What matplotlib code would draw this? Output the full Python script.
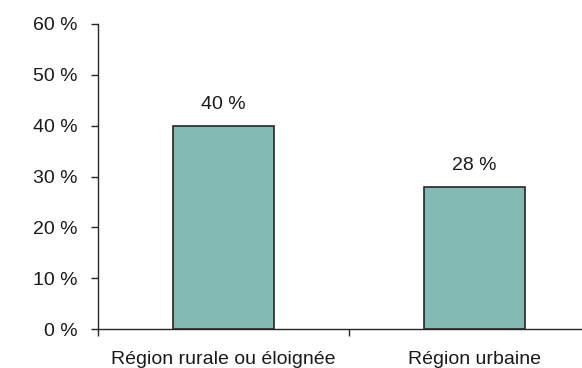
import numpy as np
import matplotlib.pyplot as plt

categories = ["Région rurale ou éloignée", "Région urbaine"]
values = [40, 28]
yticks = [0, 10, 20, 30, 40, 50, 60]

plt.rcParams['font.family'] = ['Liberation Sans', 'DejaVu Sans']

fig = plt.figure(figsize=(5.82, 3.68), dpi=100)
ax = fig.add_axes([98 / 582, 1 - 329 / 368, (581 - 98) / 582, (329 - 24) / 368])

x = np.arange(len(categories))
ax.bar(x, values, width=0.4, color="#83BBB4", edgecolor="#262626", linewidth=1.2, zorder=3)

for xi, v in zip(x, values):
    ax.annotate(f"{v} %", (xi, v), xytext=(0, 9), textcoords="offset points",
                ha="center", va="bottom", fontsize=14, color="#1a1a1a")

ax.set_xlim(-0.5, -0.5 + (581 - 98) / 251)
ax.set_ylim(0, 60)
ax.set_yticks(yticks)
ax.set_yticklabels([f"{t} %" for t in yticks], fontsize=14, color="#1a1a1a")
ax.set_xticks(x)
ax.set_xticklabels(categories, fontsize=14, color="#1a1a1a")
ax.set_xticks([-0.5, 0.5], minor=True)

ax.tick_params(axis="y", direction="out", length=5, width=1, color="#262626", pad=10)
ax.tick_params(axis="x", which="major", length=0, pad=15.5)
ax.tick_params(axis="x", which="minor", direction="out", length=5, width=1, color="#262626")

for s in ["top", "right"]:
    ax.spines[s].set_visible(False)
for s in ["left", "bottom"]:
    ax.spines[s].set_color("#262626")
    ax.spines[s].set_linewidth(1)

fig.savefig("out.png", dpi=100)
